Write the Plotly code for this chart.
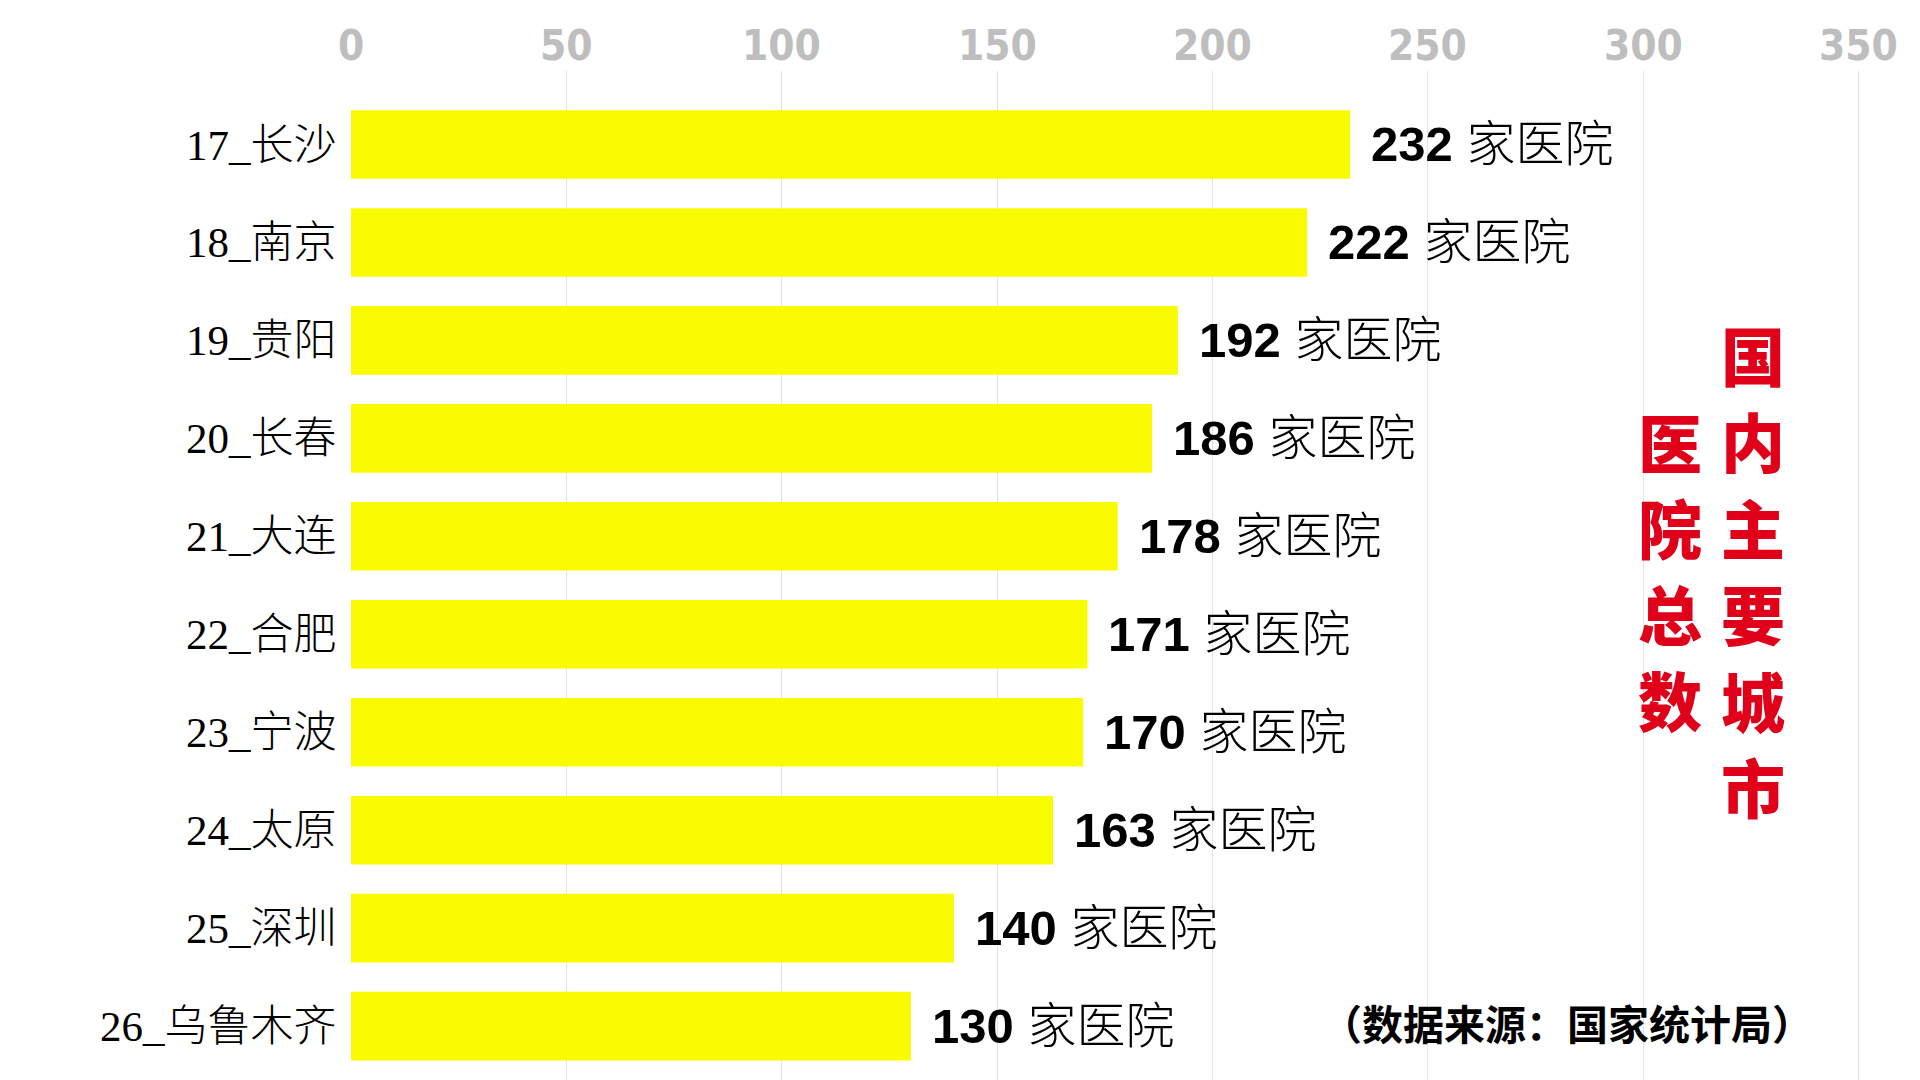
import plotly.graph_objects as go

cities = ["17_长沙", "18_南京", "19_贵阳", "20_长春", "21_大连",
          "22_合肥", "23_宁波", "24_太原", "25_深圳", "26_乌鲁木齐"]
hospitals = [232, 222, 192, 186, 178, 171, 170, 163, 140, 130]
x_ticks = [0, 50, 100, 150, 200, 250, 300, 350]
unit_label = "家医院"
title_right = "国内主要城市"
title_left = "医院总数"
source_text = "（数据来源：国家统计局）"

L, T = 351, 71
PW = 1516
PH = 1080 - T


def px_to_paper(xp, yp):
    return (xp - L) / PW, 1 - (yp - T) / PH


fig = go.Figure()
fig.add_trace(go.Bar(
    x=hospitals, y=list(range(len(cities))), orientation="h",
    marker=dict(color="#F9FC00", line=dict(width=0)),
    width=0.7, hoverinfo="skip",
))

# value labels
for i, v in enumerate(hospitals):
    fig.add_annotation(
        x=v, y=i, xref="x", yref="y", xanchor="left", yanchor="middle",
        xshift=19, showarrow=False,
        text=f'<b>{v}</b> <span style="font-weight:300">{unit_label}</span>',
        font=dict(family="Liberation Sans, Noto Sans CJK SC", size=49, color="#000000"),
    )

# x tick labels (top), placed via the x axis scale
for t in x_ticks:
    fig.add_annotation(
        x=t, y=1, xref="x", yref="paper", xanchor="center", yanchor="middle",
        yshift=26, showarrow=False, text=str(t),
        font=dict(family="Liberation Sans Narrow, DejaVu Sans Condensed, Liberation Sans",
                  size=42, color="#BEBEBE", weight=700),
    )

# vertical red title, one character per annotation
title_font = dict(family="Noto Sans CJK SC", size=64, color="#E0001A", weight=900)
for k, ch in enumerate(title_right):
    xp, yp = px_to_paper(1753, 353 + 86.4 * k)
    fig.add_annotation(x=xp, y=yp, xref="paper", yref="paper", showarrow=False,
                       text=ch, font=title_font, xanchor="center", yanchor="middle")
for k, ch in enumerate(title_left):
    xp, yp = px_to_paper(1670, 440 + 86 * k)
    fig.add_annotation(x=xp, y=yp, xref="paper", yref="paper", showarrow=False,
                       text=ch, font=title_font, xanchor="center", yanchor="middle")

xp, yp = px_to_paper(1567, 1022)
fig.add_annotation(
    x=xp, y=yp, xref="paper", yref="paper", showarrow=False,
    text=source_text,
    font=dict(family="Noto Sans CJK SC", size=41, color="#000000", weight=700),
    xanchor="center", yanchor="middle",
)

fig.update_layout(
    width=1920, height=1080,
    margin=dict(l=L, r=1920 - L - PW, t=T, b=0, pad=0),
    paper_bgcolor="#FFFFFF", plot_bgcolor="#FFFFFF",
    showlegend=False, bargap=0.3,
    xaxis=dict(
        side="top", range=[0, 352], tickvals=x_ticks, showticklabels=False,
        showgrid=True, gridcolor="#E3E3E3", gridwidth=1, zeroline=False,
        showline=False, ticks="",
        fixedrange=True,
    ),
    yaxis=dict(
        range=[9.55, -0.75], tickvals=list(range(len(cities))), ticktext=cities,
        showgrid=False, zeroline=False, showline=False,
        ticks="outside", ticklen=5, tickcolor="rgba(0,0,0,0)",
        tickfont=dict(family="Liberation Serif, Noto Sans CJK SC", size=43,
                      color="#000000", weight=300),
        fixedrange=True,
    ),
)

fig.write_html("out.html")
